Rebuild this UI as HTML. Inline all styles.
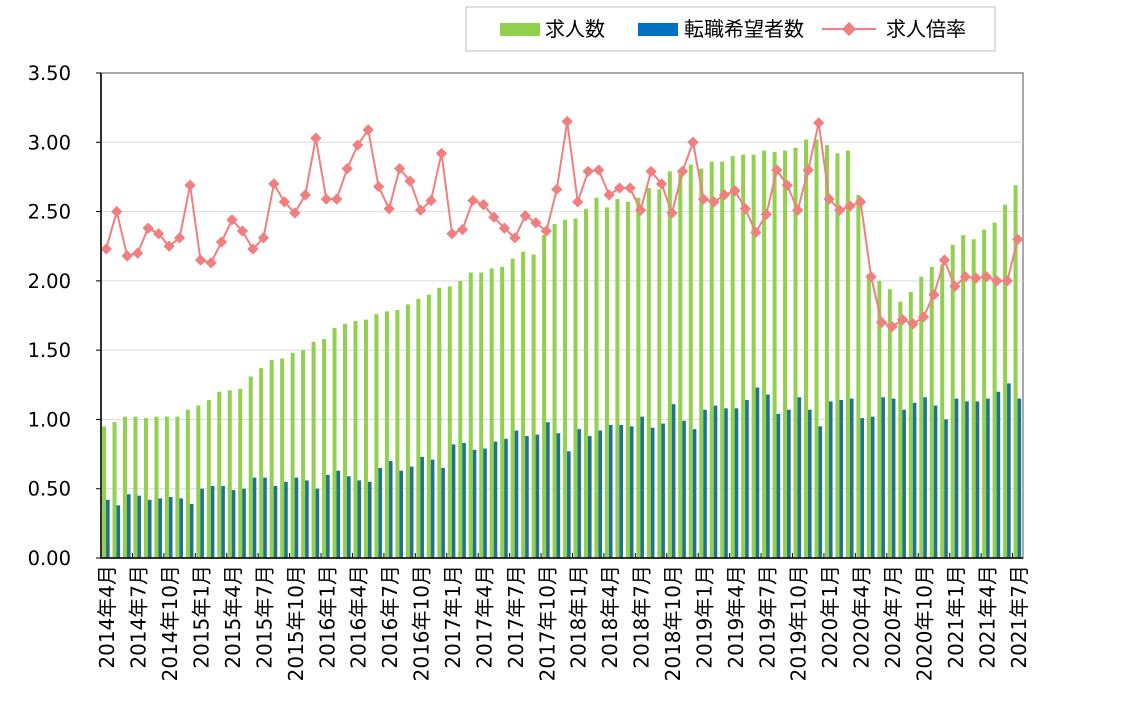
<!DOCTYPE html>
<html><head><meta charset="utf-8"><style>
html,body{margin:0;padding:0;background:#fff;}
svg{display:block;font-family:"DejaVu Sans","Noto Sans CJK JP",sans-serif;}
</style></head><body>
<svg id="chart" width="1141" height="719" viewBox="0 0 1141 719">
<g id="legend">
<rect x="466" y="7" width="529" height="44" fill="#fff" stroke="#bfbfbf"/>
<rect x="500" y="23" width="40" height="13" fill="#92d050"/>
<text x="545" y="36" font-size="20" fill="#000">求人数</text>
<rect x="638" y="23" width="40" height="13" fill="#0070c0"/>
<text x="684" y="36" font-size="20" fill="#000">転職希望者数</text>
<line x1="822" y1="29" x2="876" y2="29" stroke="#f08080" stroke-width="2"/>
<rect x="844" y="24" width="10" height="10" fill="#f08080" transform="rotate(45 849 29)"/>
<text x="886" y="36" font-size="20" fill="#000">求人倍率</text>
</g>
<g id="grid"></g><g id="bars"></g><g id="line"></g><g id="axes"></g>
</svg>
<script>
const startYear = 2014, startMonth = 4;
const openings = [0.95,0.98,1.02,1.02,1.01,1.02,1.02,1.02,1.07,1.10,1.14,1.20,1.21,1.22,1.31,1.37,1.43,1.44,1.48,1.50,1.56,1.58,1.66,1.69,1.71,1.72,1.76,1.78,1.79,1.83,
1.87,1.90,1.95,1.96,2.00,2.06,2.06,2.09,2.10,2.16,2.21,2.19,2.33,2.41,2.44,2.45,2.52,2.60,2.53,2.59,2.57,2.60,2.67,2.66,2.79,2.80,2.84,2.81,
2.86,2.86,2.90,2.91,2.91,2.94,2.93,2.94,2.96,3.02,3.02,2.98,2.92,2.94,2.62,2.05,2.00,1.94,1.85,1.92,2.03,2.10,2.12,2.26,2.33,2.30,2.37,2.42,2.55,2.69];
const applicants = [0.42,0.38,0.46,0.45,0.42,0.43,0.44,0.43,0.39,0.50,0.52,0.52,0.49,0.50,0.58,0.58,0.52,0.55,0.58,0.56,0.50,0.60,0.63,0.59,0.56,0.55,0.65,0.70,0.63,
0.66,0.73,0.71,0.65,0.82,0.83,0.78,0.79,0.84,0.86,0.92,0.88,0.89,0.98,0.90,0.77,0.93,0.88,0.92,0.96,0.96,0.95,1.02,0.94,0.97,1.11,0.99,0.93,1.07,
1.10,1.08,1.08,1.14,1.23,1.18,1.04,1.07,1.16,1.07,0.95,1.13,1.14,1.15,1.01,1.02,1.16,1.15,1.07,1.12,1.16,1.10,1.00,1.15,1.13,1.13,1.15,1.20,1.26,1.15];
const ratio = [2.23,2.50,2.18,2.20,2.38,2.34,2.25,2.31,2.69,2.15,2.13,2.28,2.44,2.36,2.23,2.31,2.70,2.57,2.49,2.62,3.03,2.59,2.59,2.81,2.98,3.09,2.68,2.52,2.81,2.72,
2.51,2.58,2.92,2.34,2.37,2.58,2.55,2.46,2.38,2.31,2.47,2.42,2.36,2.66,3.15,2.57,2.79,2.80,2.62,2.67,2.67,2.51,2.79,2.70,2.49,2.79,3.00,
2.59,2.57,2.62,2.65,2.52,2.35,2.48,2.80,2.69,2.51,2.80,3.14,2.59,2.51,2.54,2.57,2.03,1.70,1.67,1.72,1.69,1.74,1.90,2.15,1.96,2.03,2.02,2.03,2.00,2.00,2.30];
const yTicks = [0,0.5,1,1.5,2,2.5,3,3.5];
const yTickLabels = ["0.00","0.50","1.00","1.50","2.00","2.50","3.00","3.50"];

const NS="http://www.w3.org/2000/svg";
const L=101,R=1023,T=73,B=558,YMAX=3.5;
const n=openings.length, cw=(R-L)/n;
const xc=i=>L+cw*(i+0.5);
const y=v=>B-(v/YMAX)*(B-T);
function mk(tag,attrs,parent){const e=document.createElementNS(NS,tag);for(const k in attrs)e.setAttribute(k,attrs[k]);parent.appendChild(e);return e;}
const grid=document.getElementById('grid'),bars=document.getElementById('bars'),line=document.getElementById('line'),axes=document.getElementById('axes');
mk('rect',{x:L,y:T,width:R-L,height:B-T,fill:'#fff',stroke:'#8c8c8c','stroke-width':1.5},grid);
yTicks.forEach((v,k)=>{
  if(v>0&&v<YMAX){const g=mk('line',{x1:L,x2:R,y1:y(v),y2:y(v),stroke:'#d9d9d9','stroke-width':1},grid);
  
  }
  const tk=mk('line',{x1:L-5,x2:L,y1:y(v),y2:y(v),stroke:'#000'},axes);
  
  
  const t=mk('text',{x:71,y:y(v)+7,'font-size':19.5,'text-anchor':'end',fill:'#000'},axes);
  t.textContent=yTickLabels[k];
  
  
});
for(let i=0;i<n;i++){
  const c=xc(i);
  const g=mk('rect',{x:c-4.2,y:y(openings[i]),width:4,height:B-y(openings[i]),fill:'#92d050'},bars);
  
  
  const b=mk('rect',{x:c-0.2,y:y(applicants[i]),width:3.6,height:B-y(applicants[i]),fill:'#1f7391'},bars);
  
  
}
const pts=ratio.map((v,i)=>xc(i).toFixed(1)+','+y(v).toFixed(1)).join(' ');
const pl=mk('polyline',{points:pts,fill:'none',stroke:'#f08080','stroke-width':2},line);


ratio.forEach((v,i)=>{
  const m=mk('rect',{x:xc(i)-4,y:y(v)-4,width:8,height:8,fill:'#f08080',transform:`rotate(45 ${xc(i)} ${y(v)})`},line);
  
  
});
const ax=mk('line',{x1:L,x2:L,y1:T,y2:B,stroke:'#000','stroke-width':1.5},axes);


const bx=mk('line',{x1:L,x2:R,y1:B,y2:B,stroke:'#000','stroke-width':1.5},axes);


for(let i=0;i<n;i+=3){
  const tx=L+cw*i;
  if(i>0){const tk=mk('line',{x1:tx,x2:tx,y1:B-5,y2:B,stroke:'#000'},axes);
  
  }
  const mIdx=startMonth-1+i, yr=startYear+Math.floor(mIdx/12), mo=mIdx%12+1;
  const c=xc(i)+8;
  const t=mk('text',{x:c,y:565,'font-size':20,'text-anchor':'end',fill:'#000',transform:`rotate(-90 ${c} 565)`},axes);
  t.textContent=yr+'年'+mo+'月';
  
  
}
</script>
</body></html>
